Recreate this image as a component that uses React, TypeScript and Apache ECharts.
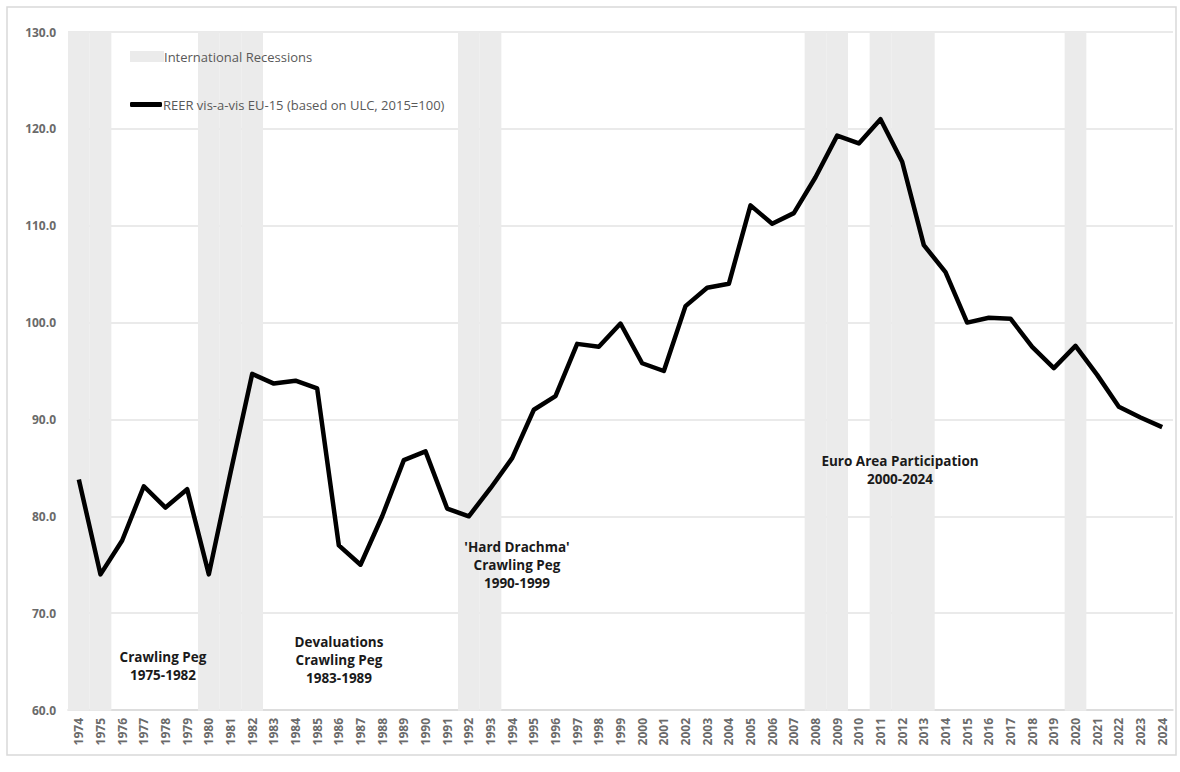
import React, { useEffect, useRef } from "react";
import * as echarts from "echarts";

const years: string[] = [
  "1974","1975","1976","1977","1978","1979","1980","1981","1982","1983",
  "1984","1985","1986","1987","1988","1989","1990","1991","1992","1993",
  "1994","1995","1996","1997","1998","1999","2000","2001","2002","2003",
  "2004","2005","2006","2007","2008","2009","2010","2011","2012","2013",
  "2014","2015","2016","2017","2018","2019","2020","2021","2022","2023","2024",
];

const reer: number[] = [
  83.8, 74.0, 77.5, 83.1, 80.9, 82.8, 74.0, 84.5, 94.7, 93.7,
  94.0, 93.2, 77.0, 75.0, 80.0, 85.8, 86.7, 80.8, 80.0, 82.9,
  86.0, 91.0, 92.4, 97.8, 97.5, 99.9, 95.8, 95.0, 101.7, 103.6,
  104.0, 112.1, 110.2, 111.3, 115.0, 119.3, 118.5, 121.0, 116.6, 108.0,
  105.2, 100.0, 100.5, 100.4, 97.5, 95.3, 97.6, 94.6, 91.3, 90.2, 89.2,
];

const recessionYears: string[] = [
  "1974","1975","1980","1981","1982","1992","1993","2008","2009","2011","2012","2013","2020",
];

const yMin = 60;
const yMax = 130;
const yStep = 10;

const recessionName = "International Recessions";
const lineName = "REER vis-a-vis EU-15 (based on ULC, 2015=100)";

const annotations: { lines: string[]; x: number; y: number }[] = [
  { lines: ["Crawling Peg", "1975-1982"], x: 163, y: 648 },
  { lines: ["Devaluations", "Crawling Peg", "1983-1989"], x: 339, y: 633 },
  { lines: ["'Hard Drachma'", "Crawling Peg", "1990-1999"], x: 517, y: 538 },
  { lines: ["Euro Area Participation", "2000-2024"], x: 900, y: 452 },
];

const FONT = "'Open Sans', 'Noto Sans', sans-serif";

export default function App() {
  const ref = useRef<HTMLDivElement>(null);
  useEffect(() => {
    if (!ref.current) return;
    const chart = echarts.init(ref.current, undefined, { renderer: "svg" });
    const recessionData = years.map((y) => (recessionYears.includes(y) ? yMax : "-"));
    chart.setOption({
      animation: false,
      backgroundColor: "#ffffff",
      textStyle: { fontFamily: FONT },
      grid: { left: 68, right: 7, top: 32, bottom: 62, containLabel: false },
      legend: [
        {
          data: [{ name: recessionName, icon: "rect" }],
          left: 130,
          top: 50,
          padding: 0,
          itemWidth: 32,
          itemHeight: 9,
          itemGap: 0,
          textStyle: { color: "#595959", fontSize: 13, fontFamily: FONT, padding: [0, 0, 0, -4] },
          selectedMode: false,
        },
        {
          data: [{ name: lineName, icon: "roundRect" }],
          left: 130,
          top: 98,
          padding: 0,
          itemWidth: 32,
          itemHeight: 5,
          itemGap: 0,
          textStyle: { color: "#595959", fontSize: 13, fontFamily: FONT, padding: [0, 0, 0, -4] },
          selectedMode: false,
        },
      ],
      xAxis: {
        type: "category",
        data: years,
        boundaryGap: true,
        axisLine: { lineStyle: { color: "#d9d9d9", width: 1.5 } },
        axisTick: { show: false },
        axisLabel: {
          rotate: 90,
          interval: 0,
          color: "#6a6a6a",
          fontSize: 12,
          fontWeight: "bold",
          margin: 8,
          fontFamily: FONT,
        },
        splitLine: { show: false },
      },
      yAxis: {
        type: "value",
        min: yMin,
        max: yMax,
        interval: yStep,
        axisLine: { show: false },
        axisTick: { show: false },
        axisLabel: {
          color: "#6a6a6a",
          fontSize: 12,
          fontWeight: "bold",
          margin: 12,
          fontFamily: FONT,
          formatter: (v: number) => v.toFixed(1),
        },
        splitLine: { lineStyle: { color: "#e3e3e3", width: 1.5 } },
      },
      series: [
        {
          name: recessionName,
          type: "bar",
          data: recessionData,
          barWidth: "100%",
          barCategoryGap: "0%",
          itemStyle: { color: "#ebebeb", borderColor: "#ebebeb", borderWidth: 1.6 },
          silent: true,
          z: 1,
        },
        {
          name: lineName,
          type: "line",
          data: reer,
          symbol: "none",
          lineStyle: { color: "#000000", width: 4.5, join: "round" },
          itemStyle: { color: "#000000" },
          z: 3,
        },
      ],
      graphic: [
        {
          type: "rect",
          shape: { x: 7, y: 7, width: 1169, height: 748 },
          style: { fill: "none", stroke: "#d9d9d9", lineWidth: 1.5 },
          silent: true,
          z: -10,
        },
        ...annotations.map((a) => ({
          type: "text",
          x: a.x,
          y: a.y,
          style: {
            text: a.lines.join("\n"),
            fill: "#1a1a1a",
            font: `bold 13.5px ${FONT}`,
            lineHeight: 18,
            align: "center",
            verticalAlign: "top",
          },
          z: 10,
        })),
      ],
    });
    return () => chart.dispose();
  }, []);
  return (
    <div
      ref={ref}
      style={{ position: "absolute", left: 0, top: 0, width: 1180, height: 772 }}
    />
  );
}
